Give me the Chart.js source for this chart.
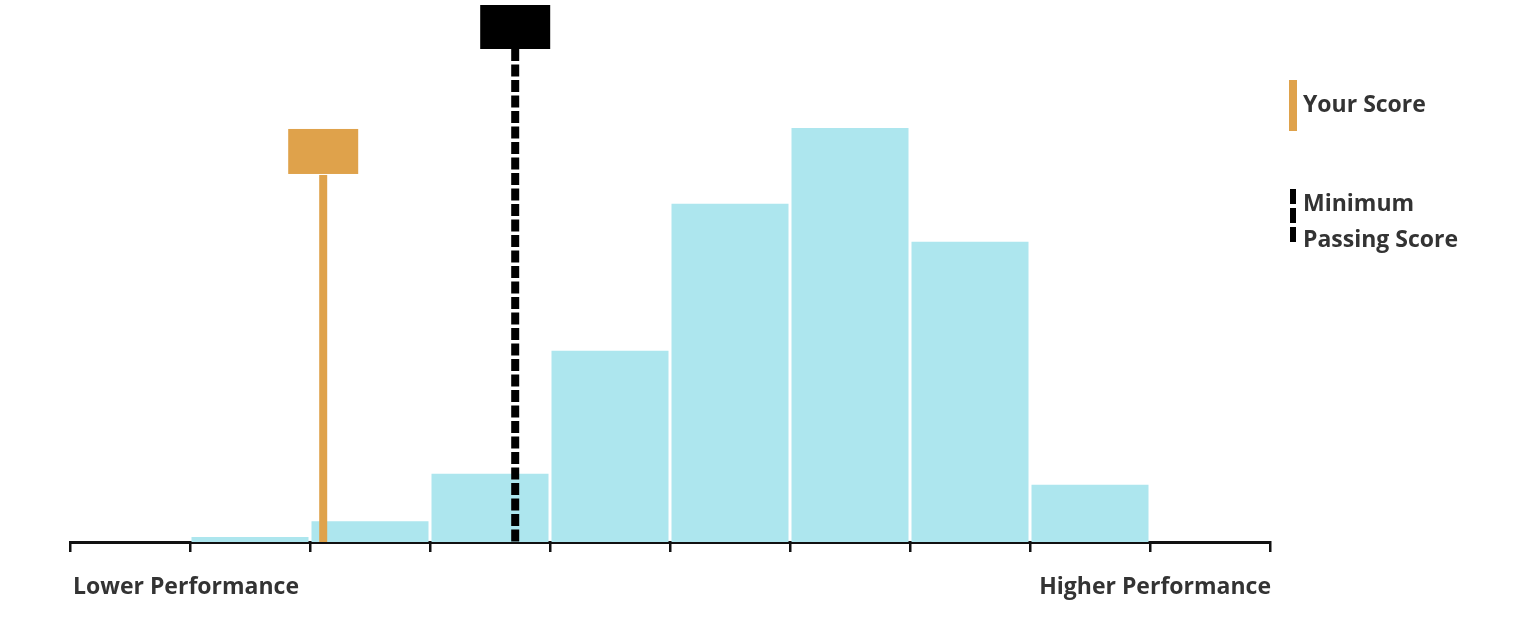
<!DOCTYPE html>
<html>
<head>
<meta charset="utf-8">
<script src="https://cdn.jsdelivr.net/npm/chart.js@4/dist/chart.umd.min.js"></script>
<style>
  html, body { margin: 0; padding: 0; background: #fff; }
  #wrap { width: 1536px; height: 636px; }
</style>
</head>
<body>
<div id="wrap"><canvas id="myChart" width="1536" height="636"></canvas></div>
<script>
"use strict";

// histogram bins (0..10), bar sits in the middle of each bin
let binCenters = [0.5, 1.5, 2.5, 3.5, 4.5, 5.5, 6.5, 7.5, 8.5, 9.5];
let counts = [0, 1.2, 5, 16.5, 46.2, 81.7, 100, 72.5, 13.8, 0];

// marker positions on the same x scale
let yourScore = 2.11;
let minPassing = 3.71;

let legendLabels = [["Your Score"], ["Minimum", "Passing Score"]];
let axisLabels = ["Lower Performance", "Higher Performance"];

const FONT = "700 23px 'Open Sans', 'DejaVu Sans', sans-serif";
const TEXT = "#333333";
const ORANGE = "#dfa24b";

const markers = {
  id: "markers",
  afterDatasetsDraw(chart) {
    const ctx = chart.ctx;
    const xs = chart.scales.x;
    const ys = chart.scales.y;
    const bottom = chart.chartArea.bottom;

    // your score: solid orange post with box
    let x = xs.getPixelForValue(yourScore);
    let top = ys.getPixelForValue(100) + 1;
    ctx.save();
    ctx.fillStyle = ORANGE;
    ctx.fillRect(x - 35, top, 70, 45);
    ctx.fillRect(x - 4, top + 46, 8, bottom - top - 46);

    // minimum passing: dashed black post with box
    x = xs.getPixelForValue(minPassing);
    top = ys.getPixelForValue(ys.max);
    ctx.fillStyle = "#000";
    ctx.fillRect(x - 35, top, 70, 44);
    ctx.strokeStyle = "#000";
    ctx.lineWidth = 8;
    ctx.setLineDash([12, 3.5]);
    ctx.beginPath();
    ctx.moveTo(x, top + 44);
    ctx.lineTo(x, bottom);
    ctx.stroke();
    ctx.restore();
  },
  afterDraw(chart) {
    const ctx = chart.ctx;
    const area = chart.chartArea;
    ctx.save();
    ctx.font = FONT;
    ctx.fillStyle = TEXT;
    ctx.textBaseline = "alphabetic";

    // bottom captions
    ctx.textAlign = "left";
    ctx.fillText(axisLabels[0], area.left + 3, 594);
    ctx.textAlign = "right";
    ctx.fillText(axisLabels[1], area.right + 1, 594);

    // legend on the right
    const lx = 1293;
    ctx.textAlign = "left";
    ctx.fillStyle = ORANGE;
    ctx.fillRect(lx - 4, 80, 8, 51);
    ctx.fillStyle = TEXT;
    ctx.fillText(legendLabels[0][0], lx + 10, 112);

    ctx.strokeStyle = "#000";
    ctx.lineWidth = 6;
    ctx.setLineDash([15, 4]);
    ctx.beginPath();
    ctx.moveTo(lx, 189);
    ctx.lineTo(lx, 245);
    ctx.stroke();
    ctx.setLineDash([]);
    ctx.fillText(legendLabels[1][0], lx + 10, 211);
    ctx.fillText(legendLabels[1][1], lx + 10, 247);
    ctx.restore();
  },
};

const ctx = document.getElementById("myChart");

new Chart(ctx, {
  type: "bar",
  data: {
    datasets: [
      {
        data: binCenters.map((c, i) => ({ x: c, y: counts[i] })),
        backgroundColor: "#ade6ee",
        borderWidth: 0,
        barPercentage: 0.975,
        categoryPercentage: 1,
      },
    ],
  },
  options: {
    responsive: false,
    animation: false,
    layout: { padding: { left: 70, right: 266, top: 5, bottom: 84 } },
    plugins: { legend: { display: false }, tooltip: { enabled: false } },
    scales: {
      x: {
        type: "linear",
        offset: false,
        min: 0,
        max: 10,
        ticks: { display: false, stepSize: 1 },
        grid: {
          offset: false,
          drawOnChartArea: false,
          tickLength: 10,
          color: "#111",
          lineWidth: 2.5,
        },
        border: { color: "#111", width: 3 },
        afterFit: (s) => {
          s.height = 10;
        },
      },
      y: {
        display: false,
        min: 0,
        max: 129.7,
      },
    },
  },
  plugins: [markers],
});
</script>
</body>
</html>
